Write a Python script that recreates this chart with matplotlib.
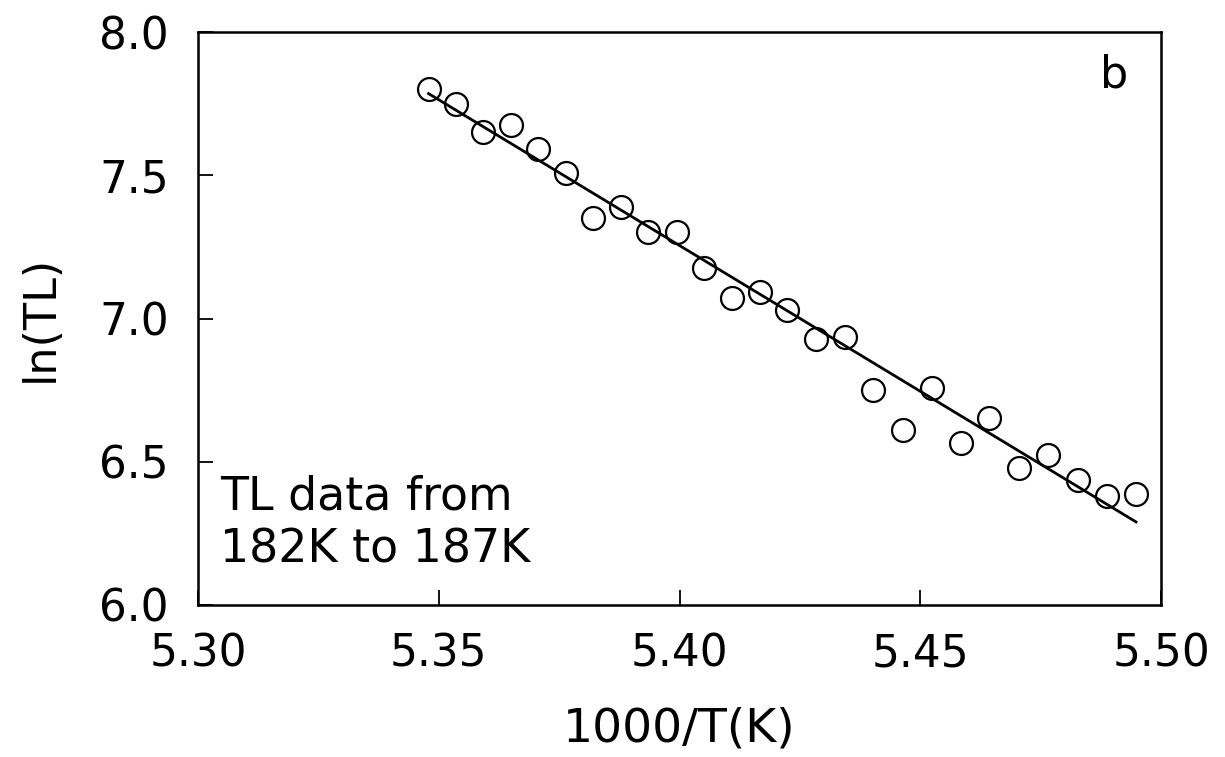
#### ln(TL) vs 1000/T plot for the 182K - 187K range, with linear fit ####

import matplotlib
matplotlib.use('Agg')
import matplotlib.pyplot as plt
import numpy as np

# measured points
inv_T = [5.3480, 5.3536, 5.3592, 5.3650, 5.3706, 5.3764, 5.3820, 5.3879, 5.3935,
         5.3995, 5.4051, 5.4109, 5.4167, 5.4223, 5.4283, 5.4344, 5.4402, 5.4464,
         5.4524, 5.4585, 5.4643, 5.4705, 5.4765, 5.4828, 5.4888, 5.4948]
ln_TL = [7.801, 7.749, 7.651, 7.675, 7.592, 7.508, 7.351, 7.389, 7.302,
         7.302, 7.176, 7.072, 7.093, 7.030, 6.928, 6.935, 6.750, 6.611,
         6.757, 6.565, 6.653, 6.478, 6.524, 6.436, 6.380, 6.387]

# straight line fit, end points
fit_x = [5.3479, 5.4948]
fit_y = [7.785, 6.290]

xticks = [5.30, 5.35, 5.40, 5.45, 5.50]
yticks = [6.0, 6.5, 7.0, 7.5, 8.0]

plt.rcParams['font.family'] = 'DejaVu Sans'

fig = plt.figure(figsize=(12.25, 7.57), dpi=100)
ax = fig.add_axes([0.1616, 0.2008, 0.7862, 0.7569])

ax.plot(inv_T, ln_TL, ls='none', marker='o', ms=16.5, mfc='none', mec='k', mew=1.6)
ax.plot(fit_x, fit_y, c='k', lw=2.0)

ax.set_xlim(5.30, 5.50)
ax.set_ylim(6.0, 8.0)
ax.set_xticks(xticks)
ax.set_xticklabels(['%.2f' % v for v in xticks])
ax.set_yticks(yticks)
ax.set_yticklabels(['%.1f' % v for v in yticks])
ax.tick_params(axis='x', direction='in', length=11, width=1.3, labelsize=31.5, pad=20)
ax.tick_params(axis='y', direction='in', length=11, width=1.3, labelsize=31.5, pad=21)
for s in ax.spines.values():
    s.set_linewidth(1.8)

ax.set_xlabel('1000/T(K)', fontsize=34)
ax.xaxis.set_label_coords(0.5, -0.178)
ax.set_ylabel('ln(TL)', fontsize=32)
ax.yaxis.set_label_coords(-0.141, 0.5)

ax.text(0.0228, 0.228, 'TL data from\n182K to 187K', transform=ax.transAxes,
        ha='left', va='top', fontsize=33, linespacing=1.22)
ax.text(0.966, 0.962, 'b', transform=ax.transAxes, ha='right', va='top', fontsize=32)

plt.savefig('out.png', dpi=100)
